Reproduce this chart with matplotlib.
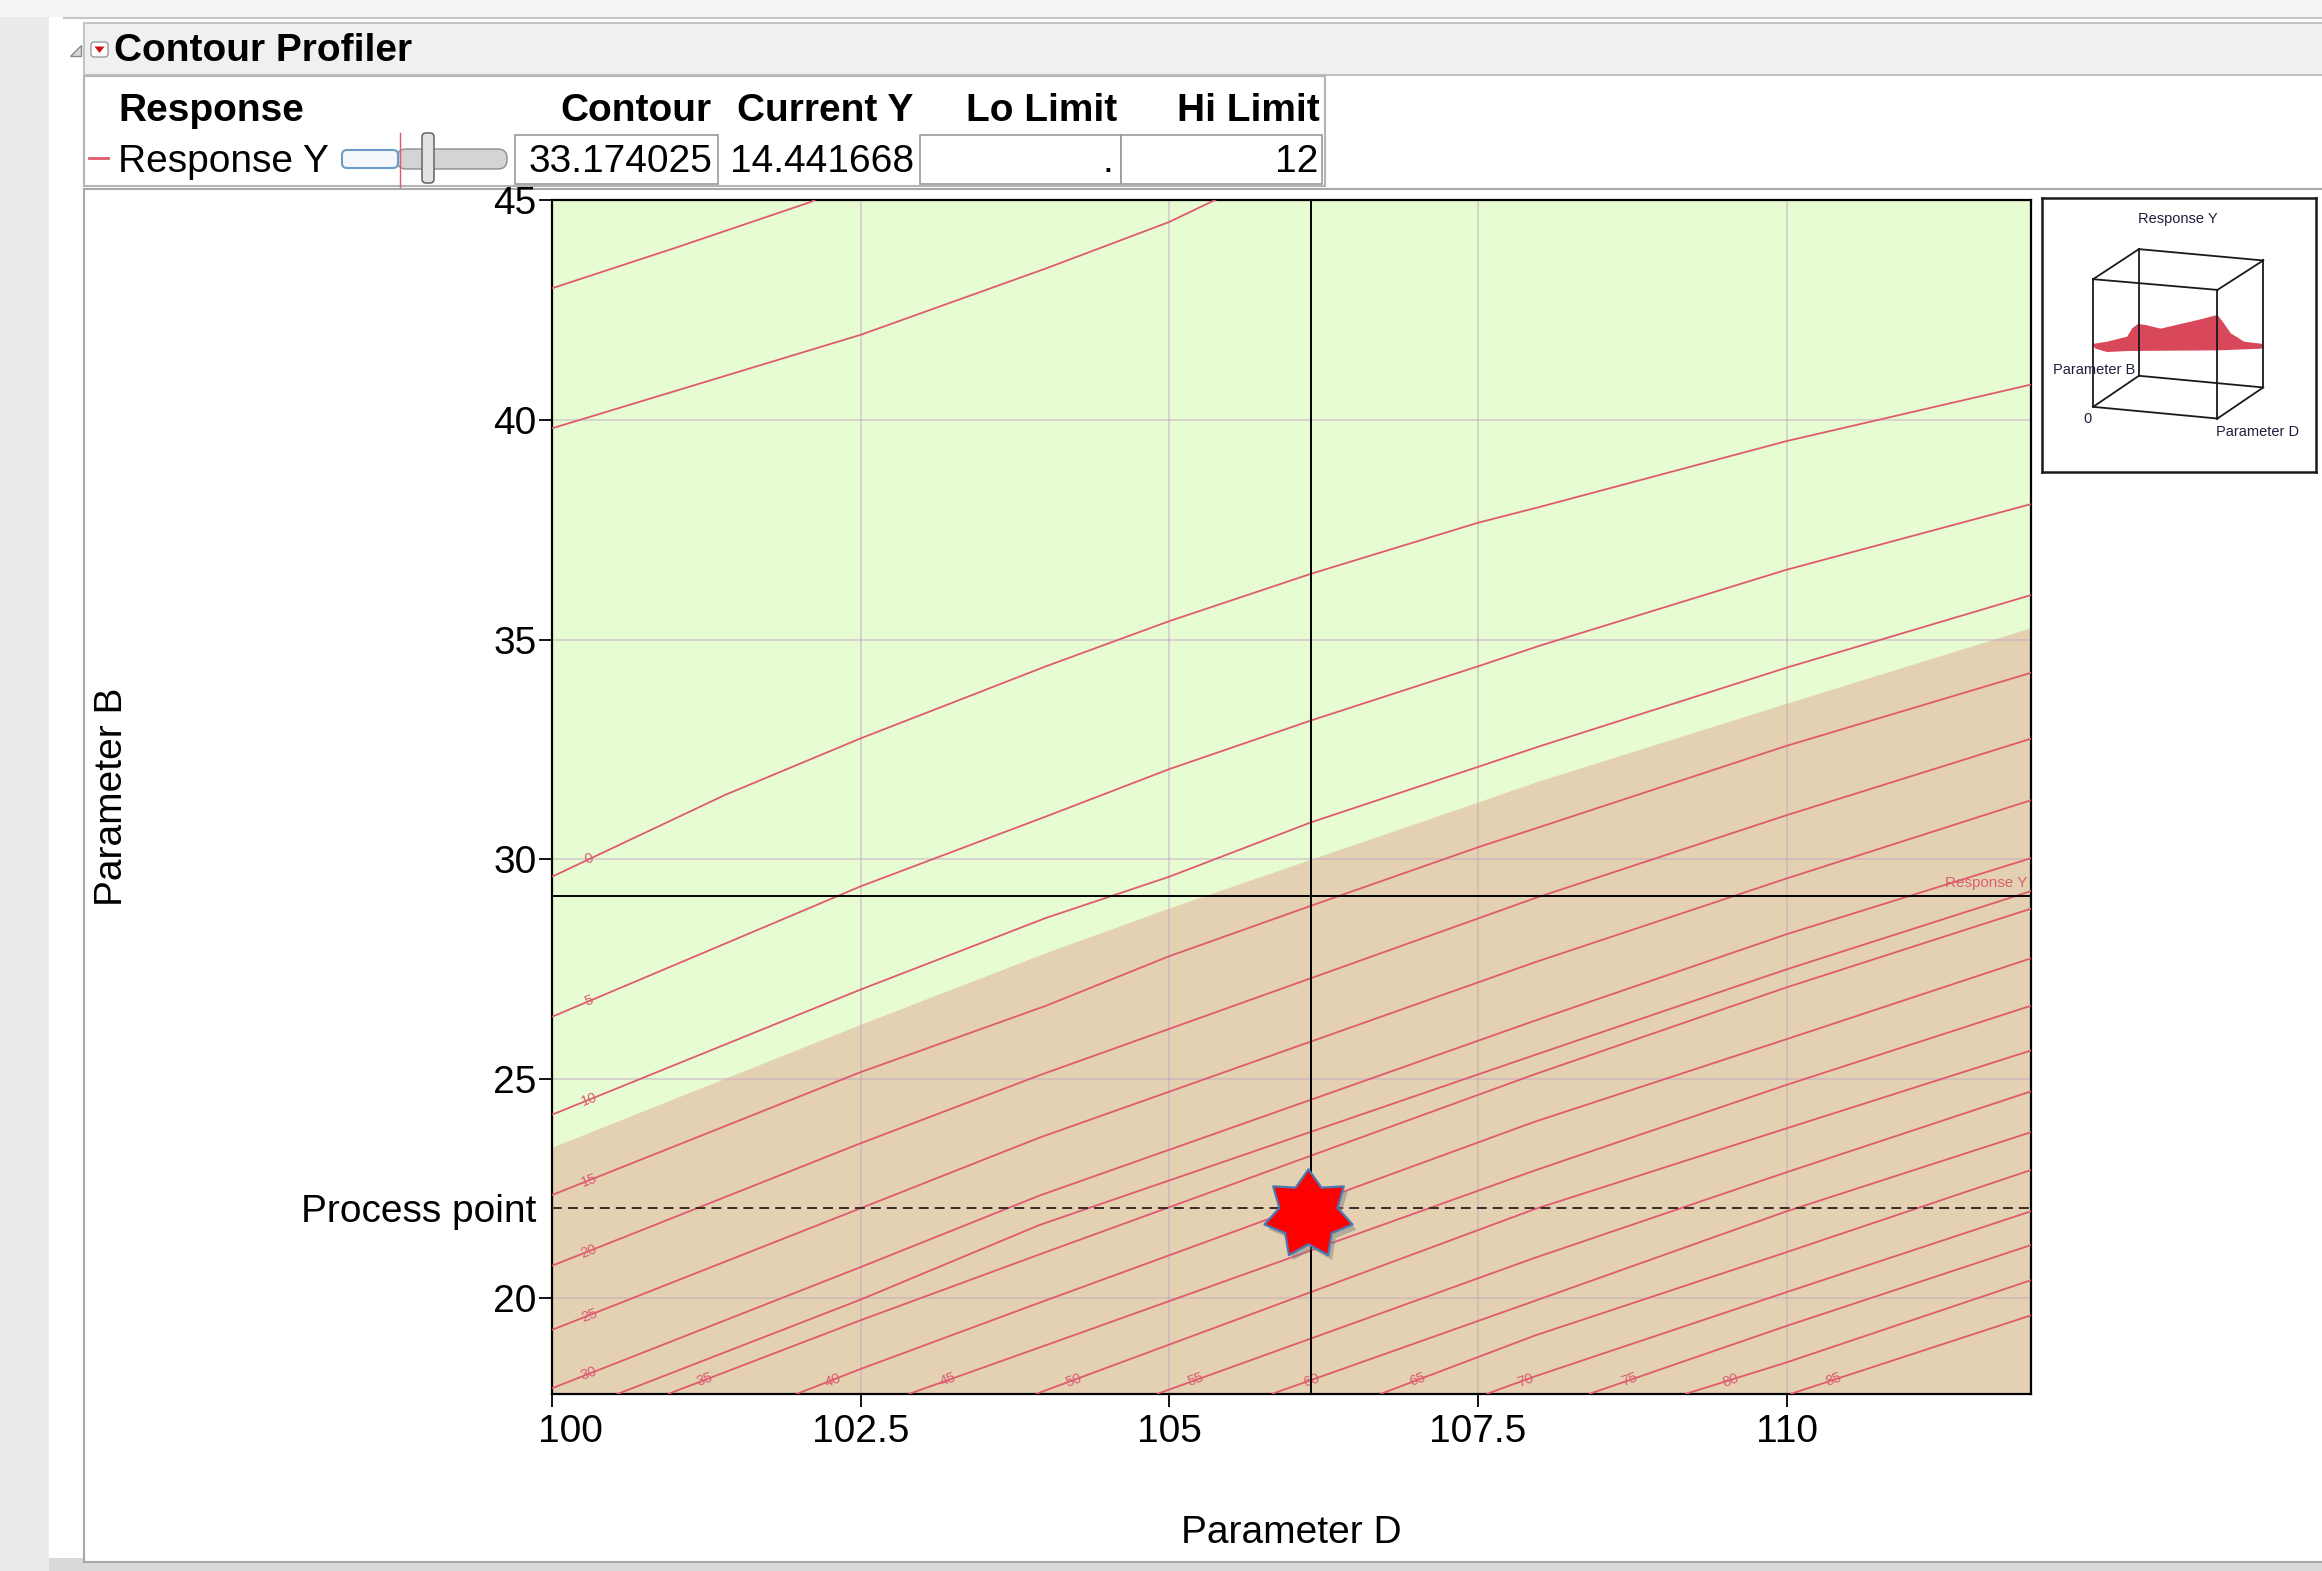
import numpy as np
import matplotlib
matplotlib.use("Agg")
import matplotlib.pyplot as plt
from matplotlib.patches import Rectangle, FancyBboxPatch, Polygon
from matplotlib.path import Path
import matplotlib.transforms as mtransforms

plt.rcParams['font.family'] = ['Liberation Sans', 'DejaVu Sans']

# ---------------- data ----------------
title = "Contour Profiler"
table_headers = ["Response", "Contour", "Current Y", "Lo Limit", "Hi Limit"]
response_name = "Response Y"
contour_value = "33.174025"
current_y = "14.441668"
lo_limit = "."
hi_limit = "12"

x_label = "Parameter D"
y_label = "Parameter B"
x_range = (100.0, 111.98)
y_range = (17.82, 45.01)
x_ticks = [100, 102.5, 105, 107.5, 110]
x_tick_labels = ["100", "102.5", "105", "107.5", "110"]
y_ticks = [20, 25, 30, 35, 40, 45]
y_tick_labels = ["20", "25", "30", "35", "40", "45"]

crosshair_D = 106.15
crosshair_B = 29.16
process_B = 22.05
star_D = 106.12
star_B = 21.92

# boundary of Hi Limit (12) region
limit_D = [100, 102.5, 104.0, 105, 106.15, 107.5, 107.96, 110, 112]
limit_B = [23.44, 26.24, 27.87, 28.89, 30.0, 31.3, 31.75, 33.55, 35.29]

# contour lines (label None = unlabeled)
contour_labels = [None, None, "0", "5", "10", "15", "20", "25", "30",
                  "35", "40", "45", "50", "55", "60", "65", "70", "75", "80", "85"]
contour_D = [
    [100, 101.02, 102.1, 102.15],
    [100, 102.5, 104.0, 105, 105.4],
    [100, 101.4, 102.5, 104.0, 105, 106.15, 107.5, 108.0, 110, 112],
    [100, 102.5, 104.0, 105, 106.15, 107.5, 108.0, 110, 112],
    [100, 102.5, 104.0, 105, 106.15, 107.5, 108.0, 110, 112],
    [100, 102.5, 104.0, 105, 106.15, 107.5, 108.0, 110, 112],
    [100, 102.5, 103.95, 107.96, 110, 112],
    [100, 102.5, 103.95, 107.96, 110, 112],
    [100, 102.5, 103.95, 107.96, 110, 112],
    [100.94, 102.5, 103.95, 107.96, 110, 112],
    [101.98, 102.5, 103.95, 107.96, 110, 112],
    [102.89, 103.95, 107.96, 110, 112],
    [103.92, 107.96, 110, 112],
    [104.90, 107.96, 110, 112],
    [105.83, 107.96, 110, 112],
    [106.71, 107.96, 110, 112],
    [107.57, 107.96, 110, 112],
    [108.40, 110, 112],
    [109.18, 110, 112],
    [110.03, 112],
]
contour_B = [
    [43.0, 43.94, 44.97, 45.05],
    [39.81, 41.94, 43.45, 44.51, 45.05],
    [29.60, 31.46, 32.75, 34.39, 35.42, 36.50, 37.66, 38.02, 39.52, 40.82],
    [26.41, 29.38, 30.97, 32.05, 33.16, 34.39, 34.86, 36.59, 38.10],
    [24.18, 27.03, 28.66, 29.60, 30.84, 32.10, 32.57, 34.36, 36.03],
    [22.35, 25.15, 26.66, 27.79, 28.94, 30.27, 30.73, 32.58, 34.26],
    [20.74, 23.53, 25.08, 29.11, 31.00, 32.76],
    [19.28, 22.05, 23.66, 27.65, 29.56, 31.36],
    [17.95, 20.71, 22.34, 26.32, 28.29, 30.04],
    [17.82, 19.50, 21.00, 25.10, 27.08, 28.89],
    [17.82, 18.39, 19.90, 24.02, 25.90, 27.76],
    [17.82, 18.88, 22.91, 24.86, 26.68],
    [17.82, 22.03, 23.87, 25.66],
    [17.82, 20.92, 22.87, 24.73],
    [17.82, 19.94, 21.98, 23.80],
    [17.82, 19.15, 21.05, 22.94],
    [17.82, 18.22, 20.14, 22.00],
    [17.82, 19.37, 21.23],
    [17.82, 18.54, 20.43],
    [17.82, 19.63],
]
# the current contour (33.174025)
current_D = [100.53, 102.5, 103.95, 107.96, 110, 112]
current_B = [17.82, 19.97, 21.67, 25.54, 27.49, 29.29]

# ---------------- figure ----------------
W, H = 2322, 1571
fig = plt.figure(figsize=(W / 100, H / 100), dpi=100)
fig.patch.set_facecolor('white')

bg = fig.add_axes([0, 0, 1, 1])
bg.set_xlim(0, W)
bg.set_ylim(H, 0)
bg.axis('off')

FS = 28
red = '#e05a6e'

# window chrome
bg.add_patch(Rectangle((0, 0), 49, H, fc='#ebebeb', ec='none'))
bg.add_patch(Rectangle((0, 0), W, 17, fc='#f5f5f5', ec='none'))
bg.plot([64, W], [18, 18], color='#c6c6c6', lw=1.5)
bg.add_patch(Rectangle((49, 1558), W, 13, fc='#d9d9d9', ec='none'))

# header bar
bg.add_patch(Rectangle((84, 23), W - 84 + 5, 52, fc='#f0f0f0', ec='#c4c4c4', lw=1.5))
bg.add_patch(Polygon([(70, 56), (81, 56), (81, 45)], closed=True, fc='#d8d8d8', ec='#8a8a8a', lw=1))
bg.add_patch(FancyBboxPatch((91, 42), 17, 15, boxstyle='round,pad=0,rounding_size=3',
                            fc='white', ec='#9a9a9a', lw=1))
bg.add_patch(Polygon([(94.5, 46.5), (104.5, 46.5), (99.5, 53)], closed=True, fc='#d01010', ec='none'))
bg.text(114, 61, title, fontsize=FS, fontweight='bold', va='baseline', ha='left')

# response table
bg.add_patch(Rectangle((84, 76), 1241, 110, fc='white', ec='#b4b4b4', lw=1.5))
bg.text(118, 121, table_headers[0], fontsize=FS, fontweight='bold', ha='left', va='baseline')
for txt, xr in zip(table_headers[1:], [711, 913, 1117, 1320]):
    bg.text(xr, 121, txt, fontsize=FS, fontweight='bold', ha='right', va='baseline')
bg.plot([89, 108], [158, 158], color=red, lw=2)
bg.text(118, 172, response_name, fontsize=FS, ha='left', va='baseline')
# slider
bg.add_patch(FancyBboxPatch((397, 149), 110, 20, boxstyle='round,pad=0,rounding_size=9',
                            fc='#d4d4d4', ec='#8c8c8c', lw=1))
bg.add_patch(FancyBboxPatch((342, 150), 56, 18, boxstyle='round,pad=0,rounding_size=5',
                            fc='#f4f8fc', ec='#6a9cc8', lw=1.5))
bg.plot([400, 400], [133, 187], color=red, lw=1)
bg.add_patch(FancyBboxPatch((422, 133), 12, 50, boxstyle='round,pad=0,rounding_size=4',
                            fc='#e2e2e2', ec='#6e6e6e', lw=1.2))
# boxes
bg.add_patch(Rectangle((515, 135), 203, 49, fc='white', ec='#9a9a9a', lw=1.2))
bg.text(712, 172, contour_value, fontsize=FS, ha='right', va='baseline')
bg.text(914, 172, current_y, fontsize=FS, ha='right', va='baseline')
bg.add_patch(Rectangle((920, 135), 201, 49, fc='white', ec='#9a9a9a', lw=1.2))
bg.text(1113, 172, lo_limit, fontsize=FS, ha='right', va='baseline')
bg.add_patch(Rectangle((1121, 135), 201, 49, fc='white', ec='#9a9a9a', lw=1.2))
bg.text(1318, 172, hi_limit, fontsize=FS, ha='right', va='baseline')

# main panel
bg.add_patch(Rectangle((84, 189), W - 84 + 5, 1373, fc='white', ec='#a8a8a8', lw=1.5))

# axis titles
bg.text(112, 797, y_label, fontsize=FS, rotation=90, ha='center', va='center')
bg.text(1291, 1533, x_label, fontsize=FS, ha='center', va='center')

# ---------------- main contour axes ----------------
ax = fig.add_axes([552 / W, 1 - 1394 / H, (2031 - 552) / W, (1394 - 200) / H])
ax.set_xlim(*x_range)
ax.set_ylim(*y_range)
green = '#e7fcd3'
tan = '#e3d1b2'
ax.set_facecolor(green)
ax.fill_between(limit_D, limit_B, y_range[0] - 1, color=tan, lw=0, zorder=1)

for gx in x_ticks[1:]:
    ax.axvline(gx, color=(0.75, 0.62, 0.76, 0.45), lw=1.3, zorder=2)
for gy in y_ticks[:-1]:
    ax.axhline(gy, color=(0.75, 0.62, 0.76, 0.45), lw=1.3, zorder=2)

for d, b in zip(contour_D, contour_B):
    ax.plot(d, b, color=red, lw=1.3, zorder=3, solid_capstyle='butt')
ax.plot(current_D, current_B, color=red, lw=1.3, zorder=3)

# contour labels: left group on the left edge, others near the bottom
label_kw = dict(fontsize=10.5, color='#dc5f72', rotation=20, ha='center', va='center', zorder=4)
for lab, d, b in zip(contour_labels, contour_D, contour_B):
    if lab is None:
        continue
    if b[0] > 17.9:
        xd = 100.3
        yb = np.interp(xd, d, b)
    else:
        yb = 18.14
        xd = np.interp(yb, b, d)
    ax.text(xd, yb, lab, **label_kw)
ax.text(111.95, 29.45, response_name, fontsize=11, color='#dc5f72', ha='right', va='center', zorder=4)

# crosshair & process point
ax.axvline(crosshair_D, color='black', lw=1.4, zorder=5)
ax.axhline(crosshair_B, color='black', lw=1.4, zorder=5)
ax.axhline(process_B, color='#3c2a2a', lw=1.4, dashes=(5.1, 3.1), zorder=5)
ax.annotate("Process point", xy=(0, process_B), xycoords=('axes fraction', 'data'),
            xytext=(-16, -4), textcoords='offset pixels', ha='right', va='center',
            fontsize=FS, annotation_clip=False)

# star marker
n = 7
ang_o = np.deg2rad(90 + np.arange(n) * 360 / n)
ang_i = ang_o + np.pi / n
verts = []
for ao, ai in zip(ang_o, ang_i):
    verts.append((np.cos(ao), np.sin(ao)))
    verts.append((0.66 * np.cos(ai), 0.66 * np.sin(ai)))
verts.append(verts[0])
codes = [Path.MOVETO] + [Path.LINETO] * (len(verts) - 2) + [Path.CLOSEPOLY]
star = Path(verts, codes)
shadow_tr = ax.transData + mtransforms.ScaledTranslation(4 / 100, -5 / 100, fig.dpi_scale_trans)
ax.plot([star_D], [star_B], marker=star, ms=65, mfc='#7a7a7a', mec='none', alpha=0.45,
        transform=shadow_tr, zorder=6, clip_on=False)
ax.plot([star_D], [star_B], marker=star, ms=65, mfc='#ff0000', mec='#4a78b5', mew=1.6,
        zorder=7, clip_on=False)

# axes styling
for s in ax.spines.values():
    s.set_linewidth(1.6)
    s.set_color('black')
ax.set_yticks(y_ticks, labels=y_tick_labels)
ax.set_xticks(x_ticks, labels=[])
ax.tick_params(axis='both', direction='out', length=9.5, width=1.3, labelsize=FS, pad=1.5)
xlab_tr = mtransforms.blended_transform_factory(ax.transData, ax.transAxes)
for i, (tx, tl) in enumerate(zip(x_ticks, x_tick_labels)):
    off = 18 if i == 0 else 0
    tr = xlab_tr + mtransforms.ScaledTranslation(off / 100, 0, fig.dpi_scale_trans)
    ax.text(tx, -0.032, tl, transform=tr, ha='center', va='center', fontsize=FS, clip_on=False)

# ---------------- 3D inset thumbnail ----------------
ins = fig.add_axes([2042 / W, 1 - 472 / H, (2316 - 2042) / W, (472 - 198) / H])
ins.set_xlim(35, 855)
ins.set_ylim(845, 25)
ins.set_xticks([])
ins.set_yticks([])
ins.set_facecolor('white')
for s in ins.spines.values():
    s.set_linewidth(1.8)
    s.set_color('#1a1a1a')
cube_edges = [
    [(188, 268), (325, 178)], [(325, 178), (697, 212)], [(697, 212), (560, 300)], [(560, 300), (188, 268)],
    [(188, 650), (325, 557)], [(325, 557), (697, 592)], [(697, 592), (560, 685)], [(560, 685), (188, 650)],
    [(188, 268), (188, 650)], [(325, 178), (325, 557)], [(697, 212), (697, 592)], [(560, 300), (560, 685)],
]
surface = [(185, 462), (230, 455), (290, 440), (305, 415), (322, 402), (345, 405), (390, 416),
           (450, 402), (510, 388), (560, 375), (578, 398), (600, 430), (640, 455), (697, 462),
           (692, 476), (560, 481), (400, 482), (290, 483), (230, 486), (195, 476)]
ins.add_patch(Polygon(surface, closed=True, fc='#d9485a', ec='none', zorder=2))
for (x0, y0), (x1, y1) in cube_edges:
    ins.plot([x0, x1], [y0, y1], color='#1a1a1a', lw=1.3, zorder=3)
tkw = dict(fontsize=10.5, color='#1e1e3c', zorder=4)
ins.text(440, 88, response_name, ha='center', va='center', **tkw)
ins.text(68, 540, y_label, ha='left', va='center', **tkw)
ins.text(172, 685, "0", ha='center', va='center', **tkw)
ins.text(555, 725, x_label, ha='left', va='center', **tkw)

fig.savefig("out.png", dpi=100)
